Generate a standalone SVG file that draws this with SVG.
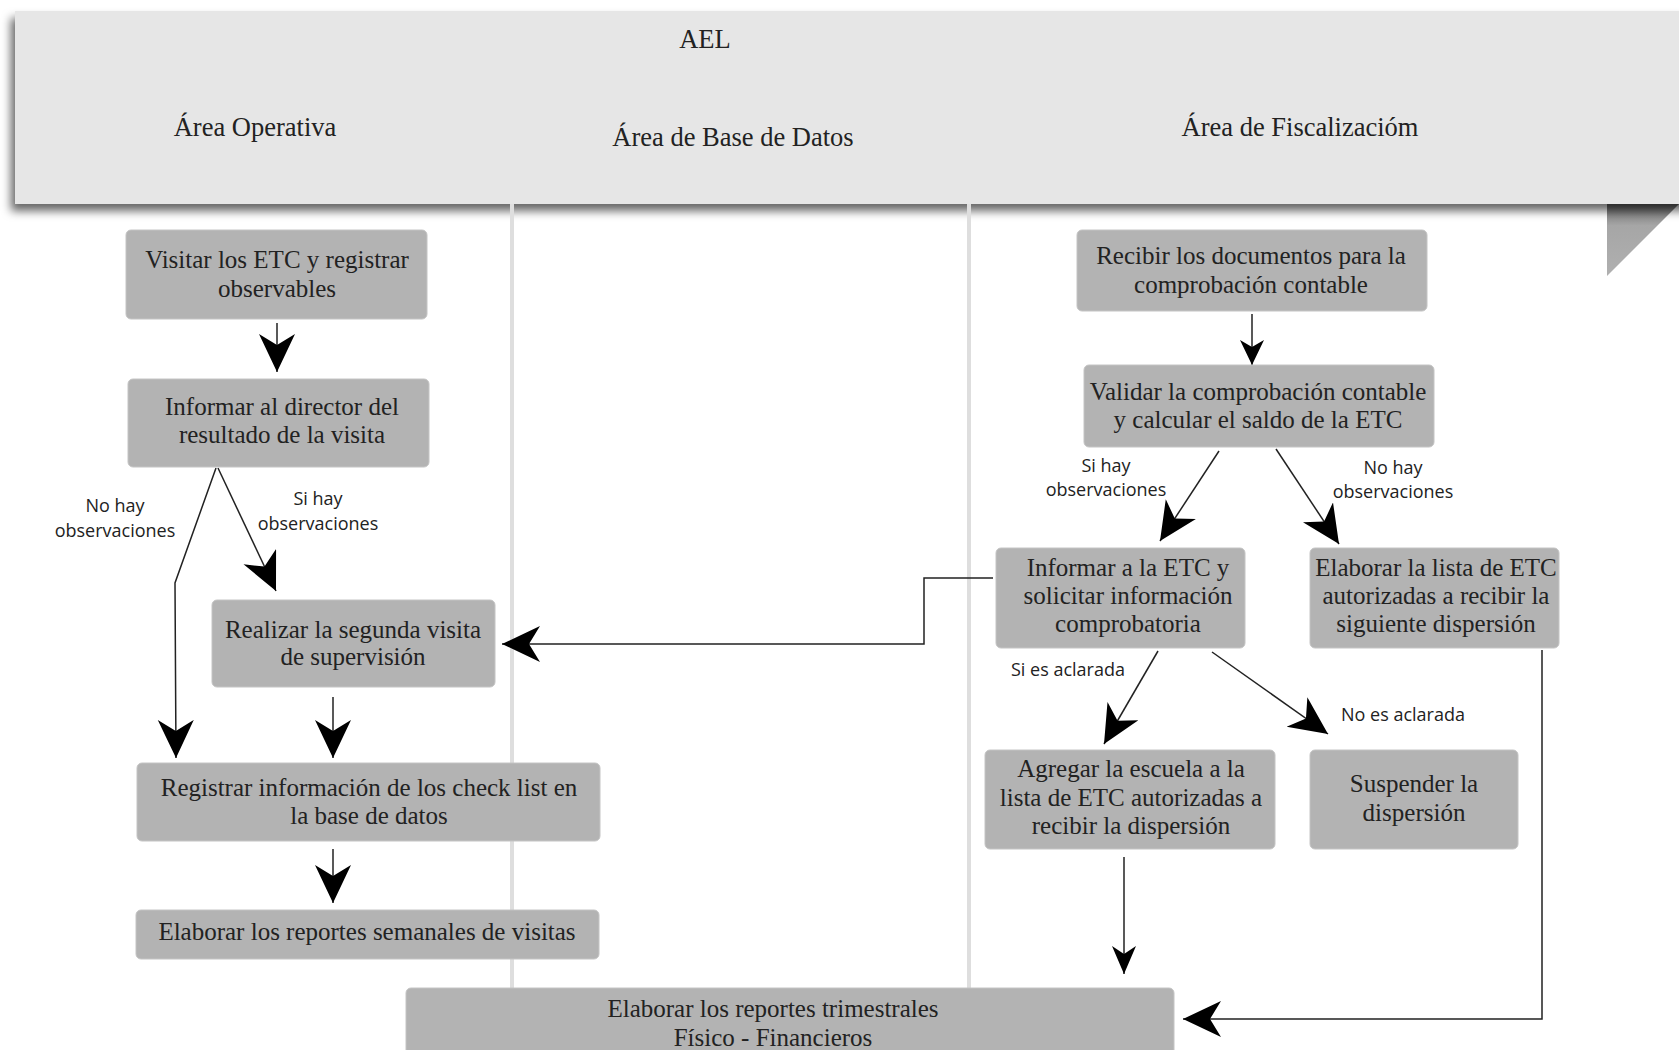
<svg xmlns="http://www.w3.org/2000/svg" width="1679" height="1050" viewBox="0 0 1679 1050">
<style>
.node rect{fill:#b3b3b3;stroke:#c4c4c4;stroke-width:1}
.nt{font-family:"Liberation Serif","DejaVu Serif",serif;font-size:25px;fill:#222;text-anchor:middle}
.ht{font-family:"Liberation Serif","DejaVu Serif",serif;font-size:26.5px;fill:#222;text-anchor:middle}
.lb{font-family:"Open Sans","Liberation Sans",sans-serif;font-size:18px;fill:#222;text-anchor:middle}
.c{fill:none;stroke:#222;stroke-width:1.5}
.lane{stroke:#dedede;stroke-width:4}
</style>
<defs>
<filter id="sh" x="-5%" y="-20%" width="110%" height="150%">
<feDropShadow dx="-4" dy="7" stdDeviation="5" flood-color="#000" flood-opacity="0.6"/>
</filter>
<linearGradient id="fold" x1="0" y1="0" x2="0" y2="1">
<stop offset="0" stop-color="#6a6a6a"/>
<stop offset="0.3" stop-color="#a6a6a6"/>
<stop offset="1" stop-color="#b0b0b0"/>
</linearGradient>
<marker id="ab" markerUnits="userSpaceOnUse" markerWidth="40" markerHeight="38" refX="38" refY="18" orient="auto" viewBox="0 0 40 38">
<path d="M0,0 L38,18 L0,36 L11,18 Z" fill="#000"/>
</marker>
<marker id="am" markerUnits="userSpaceOnUse" markerWidth="30" markerHeight="26" refX="28" refY="12" orient="auto" viewBox="0 0 30 26">
<path d="M0,0 L28,12 L0,24 L8,12 Z" fill="#000"/>
</marker>
<marker id="as" markerUnits="userSpaceOnUse" markerWidth="27" markerHeight="26" refX="25" refY="12" orient="auto" viewBox="0 0 27 26">
<path d="M0,0 L25,12 L0,24 L7,12 Z" fill="#000"/>
</marker>
</defs>
<rect width="1679" height="1050" fill="#fff"/>

<g id="header">
<polygon points="1607,204 1679,204 1607,276" fill="url(#fold)"/>
<rect x="15" y="11" width="1680" height="193" fill="#e6e6e6" filter="url(#sh)"/>
<text class="ht" x="705" y="48">AEL</text>
<text class="ht" x="255" y="136">Área Operativa</text>
<text class="ht" x="733" y="146">Área de Base de Datos</text>
<text class="ht" x="1300" y="136">Área de Fiscalizacióm</text>
</g>

<g id="lanes">
<line class="lane" x1="512" y1="204" x2="512" y2="988"/>
<line class="lane" x1="969" y1="204" x2="969" y2="988"/>
</g>

<g id="connectors">
<path class="c" d="M277,323 L277,372" marker-end="url(#ab)"/>
<path class="c" d="M218,468 L276,591" marker-end="url(#ab)"/>
<path class="c" d="M216,468 L175,583 L176,758" marker-end="url(#ab)"/>
<path class="c" d="M333,697 L333,758" marker-end="url(#ab)"/>
<path class="c" d="M333,849 L333,903" marker-end="url(#ab)"/>
<path class="c" d="M993,578 L924,578 L924,644 L502,644" marker-end="url(#ab)"/>
<path class="c" d="M1252,314 L1252,365" marker-end="url(#as)"/>
<path class="c" d="M1219,451 L1160,541" marker-end="url(#ab)"/>
<path class="c" d="M1276,449 L1339,544" marker-end="url(#ab)"/>
<path class="c" d="M1158,651 L1104,744" marker-end="url(#ab)"/>
<path class="c" d="M1212,652 L1328,734" marker-end="url(#ab)"/>
<path class="c" d="M1124,857 L1124,974" marker-end="url(#am)"/>
<path class="c" d="M1542,650 L1542,1019 L1183,1019" stroke="#666" marker-end="url(#ab)"/>
<text class="lb" x="115" y="512">No hay</text>
<text class="lb" x="115" y="537">observaciones</text>
<text class="lb" x="318" y="505">Si hay</text>
<text class="lb" x="318" y="530">observaciones</text>
<text class="lb" x="1106" y="472">Si hay</text>
<text class="lb" x="1106" y="496">observaciones</text>
<text class="lb" x="1393" y="474">No hay</text>
<text class="lb" x="1393" y="498">observaciones</text>
<text class="lb" x="1068" y="676">Si es aclarada</text>
<text class="lb" x="1403" y="721">No es aclarada</text>
</g>

<g id="n1" class="node"><rect x="126" y="230" width="301" height="89" rx="5"/>
<text class="nt" x="277" y="268">Visitar los ETC y registrar</text>
<text class="nt" x="277" y="297">observables</text></g>

<g id="n2" class="node"><rect x="128" y="379" width="301" height="88" rx="5"/>
<text class="nt" x="282" y="415">Informar al director del</text>
<text class="nt" x="282" y="443">resultado de la visita</text></g>

<g id="n3" class="node"><rect x="212" y="600" width="283" height="87" rx="5"/>
<text class="nt" x="353" y="638">Realizar la segunda visita</text>
<text class="nt" x="353" y="665">de supervisión</text></g>

<g id="n4" class="node"><rect x="137" y="763" width="463" height="78" rx="5"/>
<text class="nt" x="369" y="796">Registrar información de los check list en</text>
<text class="nt" x="369" y="824">la base de datos</text></g>

<g id="n5" class="node"><rect x="136" y="910" width="463" height="49" rx="5"/>
<text class="nt" x="367" y="940">Elaborar los reportes semanales de visitas</text></g>

<g id="n6" class="node"><rect x="406" y="988" width="768" height="80" rx="5"/>
<text class="nt" x="773" y="1017">Elaborar los reportes trimestrales</text>
<text class="nt" x="773" y="1046">Físico - Financieros</text></g>

<g id="n7" class="node"><rect x="1077" y="230" width="350" height="81" rx="5"/>
<text class="nt" x="1251" y="264">Recibir los documentos para la</text>
<text class="nt" x="1251" y="293">comprobación contable</text></g>

<g id="n8" class="node"><rect x="1084" y="365" width="350" height="82" rx="5"/>
<text class="nt" x="1258" y="400">Validar la comprobación contable</text>
<text class="nt" x="1258" y="428">y calcular el saldo de la ETC</text></g>

<g id="n9" class="node"><rect x="996" y="548" width="249" height="100" rx="5"/>
<text class="nt" x="1128" y="576">Informar a la ETC y</text>
<text class="nt" x="1128" y="604">solicitar información</text>
<text class="nt" x="1128" y="632">comprobatoria</text></g>

<g id="n10" class="node"><rect x="1310" y="548" width="249" height="100" rx="5"/>
<text class="nt" x="1436" y="576">Elaborar la lista de ETC</text>
<text class="nt" x="1436" y="604">autorizadas a recibir la</text>
<text class="nt" x="1436" y="632">siguiente dispersión</text></g>

<g id="n11" class="node"><rect x="985" y="750" width="290" height="99" rx="5"/>
<text class="nt" x="1131" y="777">Agregar la escuela a la</text>
<text class="nt" x="1131" y="806">lista de ETC autorizadas a</text>
<text class="nt" x="1131" y="834">recibir la dispersión</text></g>

<g id="n12" class="node"><rect x="1310" y="750" width="208" height="99" rx="5"/>
<text class="nt" x="1414" y="792">Suspender la</text>
<text class="nt" x="1414" y="821">dispersión</text></g>
</svg>
